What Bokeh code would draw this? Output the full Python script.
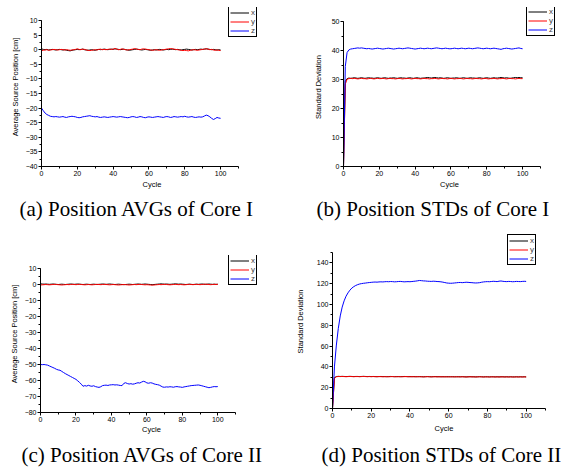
from bokeh.plotting import figure
from bokeh.models import Legend, LegendItem, Title, SingleIntervalTicker, Range1d, Spacer
from bokeh.layouts import row, column
from bokeh.embed import file_html
from bokeh.resources import INLINE

cycles = list(range(101))
series_labels = ["x", "y", "z"]
series_colors = ["#000000", "#ff0000", "#0000ff"]
captions = ["(a) Position AVGs of Core I", "(b) Position STDs of Core I",
            "(c) Position AVGs of Core II", "(d) Position STDs of Core II"]
x_label = "Cycle"
avg_label = "Average Source Position [cm]"
std_label = "Standard Deviation"

# (a) Position AVGs of Core I
a_x = [0.3, 0.1, 0.0, 0.1, -0.1, 0.0, 0.1, 0.0, -0.1, 0.0,
       0.1, 0.0, -0.1, 0.0, -0.2, -0.3, -0.4, -0.2, -0.1, 0.0,
       0.1, 0.0, 0.1, 0.2, 0.0, -0.1, -0.2, -0.1, 0.0, -0.1,
       -0.2, 0.0, 0.1, 0.0, 0.1, 0.2, 0.1, 0.0, 0.1, 0.2,
       0.1, 0.3, 0.2, 0.1, 0.0, 0.1, 0.2, 0.0, -0.1, -0.2,
       -0.1, 0.0, 0.1, 0.2, 0.1, 0.0, -0.1, 0.0, 0.1, 0.0,
       -0.1, -0.2, -0.1, 0.0, -0.1, 0.0, 0.1, 0.0, -0.1, 0.0,
       0.1, 0.0, 0.1, 0.2, 0.1, 0.0, 0.1, 0.0, -0.1, 0.0,
       0.1, 0.2, 0.1, 0.0, -0.1, 0.0, 0.1, 0.0, 0.1, 0.2,
       0.1, 0.2, 0.3, 0.2, 0.1, 0.0, 0.1, 0.0, -0.1, 0.0,
       -0.1]
a_y = [-0.3, -0.2, -0.1, 0.0, -0.2, -0.1, 0.0, 0.1, 0.0, -0.1,
       0.0, 0.1, 0.0, -0.1, 0.0, -0.1, -0.2, -0.1, 0.0, 0.1,
       0.3, 0.1, 0.0, 0.2, 0.1, -0.1, -0.2, -0.3, -0.2, -0.1,
       0.0, -0.1, 0.1, 0.2, 0.0, 0.1, 0.0, 0.1, 0.2, 0.1,
       0.2, 0.4, 0.2, 0.0, 0.1, 0.3, 0.1, 0.0, -0.1, 0.0,
       0.1, 0.2, 0.4, 0.2, 0.1, 0.0, 0.2, 0.3, 0.2, 0.1,
       0.0, -0.1, -0.2, -0.1, 0.0, -0.1, -0.2, -0.1, 0.0, 0.1,
       0.2, 0.3, 0.4, 0.3, 0.2, 0.1, 0.0, -0.1, -0.2, -0.3,
       -0.2, -0.3, -0.4, -0.2, -0.1, 0.0, -0.1, -0.2, -0.1, 0.0,
       0.1, 0.2, 0.3, 0.2, 0.0, 0.1, -0.1, -0.2, -0.1, -0.2,
       -0.3]
a_z = [-20.0, -20.9, -21.7, -22.2, -22.5, -22.8, -22.9, -23.0, -22.9, -23.0,
       -23.1, -23.0, -22.9, -23.1, -23.2, -23.0, -22.9, -22.8, -22.9, -23.0,
       -23.2, -23.3, -23.2, -23.0, -22.9, -22.8, -22.7, -22.6, -22.8, -22.9,
       -23.0, -22.9, -23.1, -23.2, -23.1, -23.0, -23.1, -23.2, -23.1, -23.0,
       -22.9, -23.0, -23.1, -23.0, -22.9, -23.0, -23.1, -23.2, -23.3, -23.2,
       -23.0, -22.9, -23.0, -23.2, -23.1, -22.9, -23.0, -23.2, -23.3, -23.1,
       -23.0, -23.1, -23.2, -23.1, -23.0, -22.9, -23.0, -23.1, -23.2, -23.0,
       -22.9, -23.0, -23.2, -23.1, -22.9, -23.0, -23.1, -23.0, -22.9, -23.0,
       -22.8, -23.0, -23.1, -23.0, -22.9, -23.1, -23.2, -23.1, -23.0, -23.1,
       -23.0, -22.7, -22.4, -22.6, -23.0, -23.5, -23.9, -23.6, -23.2, -23.4,
       -23.5]

# (b) Position STDs of Core I
b_x = [0.0, 29.3, 30.3, 30.5, 30.4, 30.5, 30.6, 30.5, 30.4, 30.5,
       30.6, 30.5, 30.4, 30.5, 30.6, 30.5, 30.5, 30.4, 30.5, 30.6,
       30.5, 30.4, 30.5, 30.6, 30.5, 30.4, 30.5, 30.5, 30.6, 30.5,
       30.4, 30.5, 30.6, 30.5, 30.5, 30.4, 30.5, 30.6, 30.5, 30.4,
       30.5, 30.6, 30.5, 30.4, 30.5, 30.5, 30.6, 30.7, 30.6, 30.5,
       30.6, 30.7, 30.6, 30.5, 30.6, 30.5, 30.4, 30.5, 30.6, 30.5,
       30.4, 30.5, 30.5, 30.6, 30.5, 30.4, 30.5, 30.6, 30.5, 30.4,
       30.5, 30.6, 30.5, 30.5, 30.4, 30.5, 30.6, 30.5, 30.4, 30.5,
       30.6, 30.5, 30.4, 30.5, 30.6, 30.5, 30.5, 30.6, 30.7, 30.6,
       30.5, 30.6, 30.5, 30.4, 30.5, 30.6, 30.7, 30.6, 30.7, 30.6,
       30.6]
b_y = [0.0, 28.4, 30.1, 30.3, 30.4, 30.3, 30.4, 30.3, 30.2, 30.3,
       30.4, 30.3, 30.3, 30.2, 30.3, 30.4, 30.3, 30.2, 30.3, 30.4,
       30.3, 30.3, 30.4, 30.3, 30.2, 30.3, 30.4, 30.3, 30.3, 30.2,
       30.3, 30.4, 30.3, 30.2, 30.3, 30.3, 30.4, 30.3, 30.2, 30.3,
       30.4, 30.3, 30.3, 30.2, 30.3, 30.4, 30.3, 30.3, 30.2, 30.3,
       30.3, 30.4, 30.3, 30.2, 30.3, 30.4, 30.3, 30.3, 30.2, 30.3,
       30.4, 30.3, 30.2, 30.3, 30.3, 30.4, 30.3, 30.2, 30.3, 30.4,
       30.3, 30.3, 30.2, 30.3, 30.4, 30.3, 30.3, 30.2, 30.3, 30.4,
       30.3, 30.2, 30.3, 30.3, 30.4, 30.3, 30.2, 30.3, 30.3, 30.4,
       30.3, 30.2, 30.3, 30.4, 30.3, 30.3, 30.2, 30.3, 30.4, 30.3,
       30.3]
b_z = [0.0, 34.5, 39.3, 40.2, 40.5, 40.6, 40.7, 40.8, 40.9, 40.8,
       40.9, 40.8, 40.7, 40.6, 40.7, 40.6, 40.5, 40.6, 40.7, 40.8,
       40.7, 40.6, 40.5, 40.6, 40.7, 40.8, 40.7, 40.6, 40.5, 40.6,
       40.7, 40.8, 40.7, 40.6, 40.7, 40.8, 40.9, 40.8, 40.7, 40.6,
       40.5, 40.6, 40.7, 40.8, 40.7, 40.6, 40.7, 40.8, 40.7, 40.6,
       40.7, 40.8, 40.9, 40.8, 40.7, 40.6, 40.7, 40.8, 40.7, 40.6,
       40.6, 40.7, 40.8, 40.7, 40.6, 40.7, 40.8, 40.7, 40.6, 40.7,
       40.8, 40.7, 40.6, 40.7, 40.8, 40.9, 40.8, 40.7, 40.6, 40.7,
       40.8, 40.7, 40.6, 40.7, 40.8, 40.7, 40.6, 40.5, 40.4, 40.6,
       40.7, 40.8, 40.7, 40.6, 40.5, 40.6, 40.7, 40.8, 40.9, 40.7,
       40.6]

# (c) Position AVGs of Core II
c_x = [0.4, 0.3, 0.2, 0.3, 0.2, 0.1, 0.2, 0.3, 0.2, 0.1,
       0.0, 0.1, 0.2, 0.1, 0.0, 0.1, 0.2, 0.3, 0.2, 0.1,
       0.2, 0.3, 0.2, 0.1, 0.0, 0.1, 0.2, 0.1, 0.0, 0.1,
       0.2, 0.1, 0.0, 0.1, 0.2, 0.3, 0.2, 0.1, 0.2, 0.3,
       0.2, 0.1, 0.0, 0.1, 0.2, 0.1, 0.0, -0.1, 0.0, 0.1,
       0.2, 0.1, 0.0, 0.1, 0.2, 0.3, 0.2, 0.1, 0.2, 0.3,
       0.2, 0.1, 0.0, -0.1, 0.0, 0.1, 0.2, 0.3, 0.4, 0.3,
       0.2, 0.3, 0.2, 0.1, 0.2, 0.3, 0.4, 0.3, 0.2, 0.3,
       0.2, 0.1, 0.0, 0.1, 0.2, 0.1, 0.0, 0.1, 0.2, 0.1,
       0.2, 0.3, 0.2, 0.1, 0.2, 0.3, 0.2, 0.1, 0.2, 0.1,
       0.2]
c_y = [-0.3, -0.2, -0.1, 0.0, -0.1, -0.2, -0.1, 0.0, 0.1, 0.0,
       -0.1, -0.2, -0.3, -0.2, -0.1, 0.0, -0.1, 0.0, 0.1, 0.0,
       -0.1, 0.0, 0.1, 0.0, -0.1, -0.2, -0.1, 0.0, -0.1, -0.2,
       -0.1, 0.0, 0.1, 0.0, -0.1, 0.0, 0.1, 0.0, -0.1, -0.2,
       -0.1, 0.0, -0.1, -0.2, -0.3, -0.2, -0.1, 0.0, -0.1, -0.2,
       -0.3, -0.2, -0.1, 0.0, -0.1, 0.0, 0.1, 0.0, -0.1, -0.2,
       -0.1, -0.2, -0.3, -0.4, -0.3, -0.2, -0.1, 0.0, -0.1, 0.0,
       0.1, 0.0, -0.1, -0.2, -0.1, 0.0, 0.1, 0.0, -0.1, 0.0,
       -0.1, -0.2, -0.1, 0.0, 0.1, 0.0, -0.1, 0.0, 0.1, 0.0,
       -0.1, 0.0, 0.1, 0.2, 0.1, 0.0, -0.1, 0.0, 0.1, 0.0,
       0.1]
c_z = [-50.0, -50.1, -50.0, -50.2, -50.4, -50.9, -51.4, -51.9, -52.4, -53.0,
       -53.4, -53.6, -54.3, -55.0, -55.7, -56.3, -56.9, -57.5, -58.1, -58.7,
       -59.3, -60.2, -61.2, -62.3, -63.6, -63.2, -63.5, -63.0, -63.4, -63.6,
       -63.3, -63.8, -64.1, -64.3, -63.9, -63.2, -63.0, -62.9, -63.1, -62.8,
       -62.7, -62.6, -62.8, -62.7, -62.9, -63.1, -63.2, -61.8, -61.4, -61.9,
       -62.2, -62.0, -62.3, -62.1, -61.7, -61.4, -61.6, -61.0, -60.5, -60.8,
       -61.5, -61.7, -61.4, -61.6, -62.1, -62.4, -62.6, -62.9, -63.5, -64.1,
       -64.2, -64.0, -64.1, -63.9, -64.0, -64.2, -63.9, -63.8, -64.0, -64.1,
       -64.3, -64.0, -63.8, -63.6, -63.4, -63.2, -63.1, -63.0, -62.9, -62.8,
       -63.0, -63.3, -63.6, -63.9, -64.2, -64.5, -64.3, -64.0, -63.8, -63.9,
       -63.8]

# (d) Position STDs of Core II
d_x = [0.0, 29.6, 30.7, 30.9, 30.8, 30.9, 30.8, 30.7, 30.8, 30.9,
       30.8, 30.7, 30.8, 30.8, 30.7, 30.8, 30.9, 30.8, 30.7, 30.8,
       30.7, 30.8, 30.7, 30.6, 30.7, 30.8, 30.7, 30.7, 30.6, 30.7,
       30.8, 30.7, 30.6, 30.7, 30.7, 30.6, 30.7, 30.8, 30.7, 30.6,
       30.7, 30.6, 30.7, 30.6, 30.6, 30.7, 30.6, 30.5, 30.6, 30.7,
       30.6, 30.5, 30.6, 30.7, 30.6, 30.6, 30.5, 30.6, 30.5, 30.6,
       30.6, 30.5, 30.6, 30.5, 30.5, 30.6, 30.5, 30.6, 30.5, 30.4,
       30.5, 30.6, 30.5, 30.5, 30.4, 30.5, 30.6, 30.5, 30.4, 30.5,
       30.5, 30.4, 30.5, 30.5, 30.4, 30.5, 30.4, 30.5, 30.5, 30.4,
       30.5, 30.4, 30.5, 30.4, 30.4, 30.5, 30.4, 30.5, 30.4, 30.5,
       30.4]
d_y = [0.0, 28.9, 30.5, 30.8, 30.7, 30.8, 30.7, 30.6, 30.7, 30.8,
       30.7, 30.6, 30.7, 30.7, 30.6, 30.7, 30.8, 30.7, 30.6, 30.7,
       30.6, 30.7, 30.6, 30.6, 30.7, 30.6, 30.5, 30.6, 30.6, 30.5,
       30.6, 30.7, 30.6, 30.5, 30.6, 30.6, 30.5, 30.6, 30.7, 30.6,
       30.5, 30.6, 30.5, 30.5, 30.6, 30.5, 30.5, 30.4, 30.5, 30.6,
       30.5, 30.4, 30.5, 30.5, 30.4, 30.5, 30.5, 30.4, 30.5, 30.4,
       30.4, 30.5, 30.4, 30.4, 30.5, 30.4, 30.4, 30.5, 30.4, 30.3,
       30.4, 30.5, 30.4, 30.4, 30.3, 30.4, 30.5, 30.4, 30.3, 30.4,
       30.4, 30.3, 30.4, 30.4, 30.3, 30.4, 30.3, 30.4, 30.4, 30.3,
       30.4, 30.3, 30.4, 30.3, 30.3, 30.4, 30.3, 30.4, 30.3, 30.4,
       30.3]
d_z = [0.0, 40.0, 61.0, 77.0, 89.0, 97.5, 103.5, 108.0, 111.2, 113.8,
       115.8, 117.2, 118.3, 119.1, 119.7, 120.1, 120.4, 120.6, 120.9, 121.1,
       121.3, 121.5, 121.6, 121.5, 121.7, 121.8, 121.7, 121.9, 122.0, 121.9,
       122.1, 122.0, 121.8, 121.9, 122.1, 122.2, 122.0, 121.8, 121.9, 122.0,
       121.9, 122.1, 122.3, 122.5, 122.8, 123.1, 122.9, 122.7, 122.6, 122.4,
       122.3, 122.2, 122.4, 122.3, 122.1, 122.0, 121.8, 121.5, 121.1, 120.7,
       120.5, 120.4, 120.5, 120.7, 120.9, 121.1, 121.2, 121.0, 121.2, 121.4,
       121.3, 121.1, 121.0, 120.8, 120.7, 120.8, 121.0, 121.4, 121.7, 121.9,
       122.0, 121.9, 122.1, 122.3, 122.2, 122.0, 122.4, 122.6, 122.3, 122.1,
       122.0, 122.2, 122.1, 121.9, 122.0, 122.2, 122.1, 122.0, 122.2, 122.3,
       122.2]

AXIS_FONT = "Liberation Sans"
CAPTION_FONT = "Liberation Serif"


def make_panel(series, caption, y_label, y_bounds, y_top, y_step, x_right,
               borders, frame, leg_xy, xlab_standoff, ylab_standoff,
               cap_offset, cap_standoff):
    left, right, top, bottom = borders
    fw, fh = frame
    p = figure(frame_width=fw, frame_height=fh,
               min_border_left=left, min_border_right=right,
               min_border_top=top, min_border_bottom=bottom,
               x_range=Range1d(0, x_right), y_range=Range1d(y_bounds[0], y_top),
               output_backend="svg", toolbar_location=None,
               outline_line_color=None, background_fill_color="white",
               border_fill_color="white")
    p.xgrid.visible = False
    p.ygrid.visible = False
    p.xaxis.ticker = SingleIntervalTicker(interval=20, num_minor_ticks=2)
    p.yaxis.ticker = SingleIntervalTicker(interval=y_step, num_minor_ticks=2)
    p.xaxis.bounds = (0, 110)
    p.yaxis.bounds = y_bounds
    p.xaxis.axis_label = x_label
    p.yaxis.axis_label = y_label
    for ax in (p.xaxis[0], p.yaxis[0]):
        ax.axis_line_color = "black"
        ax.axis_line_width = 1
        ax.major_tick_line_color = "black"
        ax.minor_tick_line_color = "black"
        ax.major_tick_in = 0
        ax.major_tick_out = 3
        ax.minor_tick_in = 0
        ax.minor_tick_out = 2
        ax.major_label_standoff = 1
        ax.major_label_text_font = AXIS_FONT
        ax.major_label_text_font_size = "7px"
        ax.major_label_text_color = "black"
        ax.axis_label_text_font = AXIS_FONT
        ax.axis_label_text_font_size = "7.5px"
        ax.axis_label_text_font_style = "normal"
        ax.axis_label_text_color = "black"
    p.xaxis.axis_label_standoff = xlab_standoff
    p.yaxis.axis_label_standoff = ylab_standoff
    items = []
    for vals, lab, col in zip(series, series_labels, series_colors):
        r = p.line(cycles, vals, line_color=col, line_width=1)
        items.append(LegendItem(label=lab, renderers=[r]))
    leg = Legend(items=items, location=leg_xy,
                 border_line_color="black", border_line_width=1,
                 border_line_alpha=1,
                 background_fill_color="white", background_fill_alpha=1,
                 padding=1, spacing=0, margin=0,
                 glyph_width=19, glyph_height=9, label_height=9,
                 label_width=4, label_standoff=2,
                 label_text_font=AXIS_FONT, label_text_font_size="8px")
    p.add_layout(leg)
    t = Title(text=caption, align="left", offset=cap_offset,
              standoff=cap_standoff, text_font=CAPTION_FONT,
              text_font_size="21px", text_font_style="normal",
              text_color="black")
    p.add_layout(t, "below")
    return p


pa = make_panel([a_x, a_y, a_z], captions[0], avg_label, (-40, 10), 14.45, 5, 123.4,
                (40, 22, 7, 64), (221, 159), (187, 129), 1, 3, -22, 6)
pb = make_panel([b_x, b_y, b_z], captions[1], std_label, (0, 50), 54.83, 10, 118.38,
                (48, 13, 7, 64), (212, 159), (183, 130), 1, 6, -27, 6)
pc = make_panel([c_x, c_y, c_z], captions[2], avg_label, (-80, 10), 18.125, 10, 125.23,
                (40, 22, 25, 58), (222, 157), (188, 127), 0, 3, -19, 9)
pd = make_panel([d_x, d_y, d_z], captions[3], std_label, (0, 150), 167.31, 20, 115.16,
                (48, 13, 4, 62), (223, 174), (175, 143), 3, 9, -11, 11)

left_col = column(row(Spacer(width=1, height=230), pa, spacing=0), pc, spacing=0)
right_col = column(row(Spacer(width=11, height=230), pb, spacing=0), pd, spacing=0)
layout = row(left_col, right_col, spacing=0)
open("out.html", "w").write(file_html(layout, INLINE))
